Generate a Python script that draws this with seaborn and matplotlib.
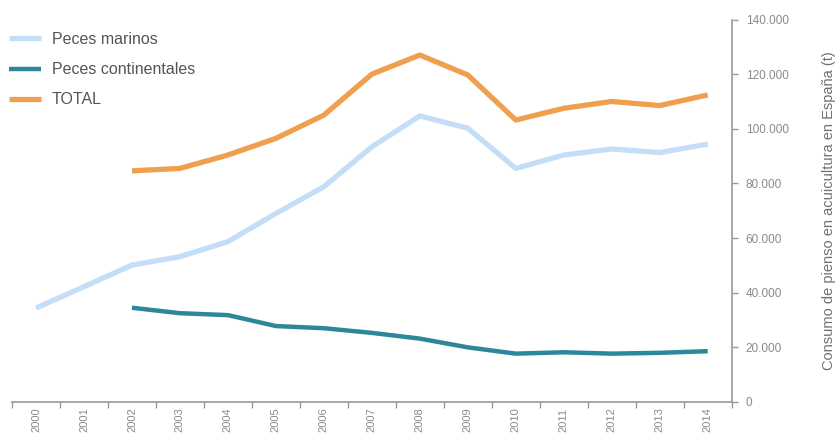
import matplotlib
matplotlib.use("Agg")
import matplotlib.pyplot as plt
from matplotlib.ticker import FuncFormatter, FixedLocator
import seaborn as sns
import pandas as pd

# Feed consumption in Spanish aquaculture (tonnes)
years = [2000, 2001, 2002, 2003, 2004, 2005, 2006, 2007,
         2008, 2009, 2010, 2011, 2012, 2013, 2014]
marinos = [34400, 42200, 50100, 53200, 58700, 69000, 78800, 93400,
           104700, 100200, 85500, 90400, 92600, 91300, 94400]
years_cont = years[2:]
continentales = [34500, 32500, 31800, 27800, 27000, 25300, 23200,
                 20000, 17700, 18200, 17700, 18000, 18600]
total = [84600, 85500, 90400, 96500, 105000, 120000, 127000,
         119700, 103200, 107500, 110000, 108500, 112400]

series_names = ["Peces marinos", "Peces continentales", "TOTAL"]
palette = {"Peces marinos": "#c3def6",
           "Peces continentales": "#2c879a",
           "TOTAL": "#f09f4f"}
widths = {"Peces marinos": 3.8, "Peces continentales": 3.2, "TOTAL": 3.8}
y_label = "Consumo de pienso en acuicultura en España (t)"

df = pd.concat([
    pd.DataFrame({"year": years, "value": marinos, "serie": series_names[0]}),
    pd.DataFrame({"year": years_cont, "value": continentales, "serie": series_names[1]}),
    pd.DataFrame({"year": years_cont, "value": total, "serie": series_names[2]}),
], ignore_index=True)

sns.set_style("white")
plt.rcParams["font.family"] = ["Liberation Sans", "DejaVu Sans"]

fig = plt.figure(figsize=(8.36, 4.33), dpi=100)
ax = fig.add_axes([12 / 836, 31 / 433, 719.7 / 836, 382.5 / 433])

for name in series_names:
    sub = df[df["serie"] == name]
    sns.lineplot(data=sub, x="year", y="value", ax=ax, color=palette[name],
                 linewidth=widths[name], label=name, solid_joinstyle="round",
                 solid_capstyle="butt", estimator=None, sort=False)

ax.set_xlim(1999.5, 2014.5)
ax.set_ylim(0, 140000)

gray = "#9a9a9a"
txt = "#8a8a8a"
for s in ["left", "top"]:
    ax.spines[s].set_visible(False)
for s in ["bottom", "right"]:
    ax.spines[s].set_color(gray)
    ax.spines[s].set_linewidth(1.2)

# x: labels centred on each year, tick marks on the boundaries between years
ax.xaxis.set_major_locator(FixedLocator(years))
ax.set_xticklabels([str(y) for y in years], rotation=90, fontsize=8, color=txt)
ax.xaxis.set_minor_locator(FixedLocator([y - 0.5 for y in years] + [2014.5]))
ax.tick_params(axis="x", which="major", length=0, pad=4)
ax.tick_params(axis="x", which="minor", bottom=True, length=4, width=1,
               color=gray, direction="out")

# y axis on the right side
ax.yaxis.tick_right()
ax.yaxis.set_label_position("right")
ax.set_yticks(range(0, 140001, 20000))
ax.yaxis.set_major_formatter(FuncFormatter(
    lambda v, _: f"{int(v):,}".replace(",", ".")))
ax.tick_params(axis="y", right=True, left=False, length=4, width=1,
               color=gray, direction="out", labelsize=8.5, labelcolor=txt, pad=6)
ax.set_ylabel(y_label, fontsize=10.5, color="#707070", labelpad=24)
ax.set_xlabel("")

handles, labels = ax.get_legend_handles_labels()
leg = ax.legend(handles, labels, loc="upper left",
                bbox_to_anchor=(9 / 836, 1 - 32 / 433),
                bbox_transform=fig.transFigure, frameon=False,
                fontsize=11.5, handlelength=2.0, handletextpad=0.7,
                labelspacing=0.95, borderpad=0, borderaxespad=0)
for t in leg.get_texts():
    t.set_color("#555555")

fig.savefig("out.png", dpi=100, facecolor="white")
